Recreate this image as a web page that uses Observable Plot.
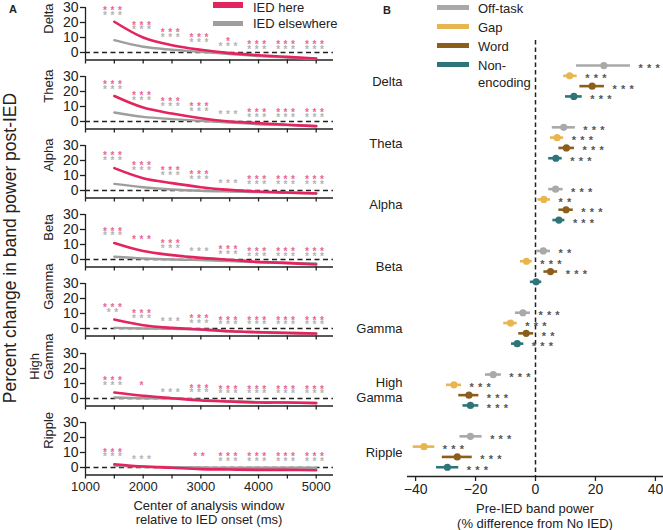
<!DOCTYPE html>
<html><head><meta charset="utf-8">
<script src="https://cdn.jsdelivr.net/npm/d3@7"></script>
<script src="https://cdn.jsdelivr.net/npm/@observablehq/plot@0.6"></script>
<style>
body{margin:0;background:#fff;font-family:"Liberation Sans",Arial,sans-serif;color:#222;}
#c{position:relative;width:663px;height:530px;overflow:hidden;background:#fff;}
.abs{position:absolute;white-space:nowrap;}
.lab{font-size:13px;line-height:15px;}
</style></head><body><div id="c"></div>
<script>
// ---------- Panel A data ----------
const windows = [1500, 2000, 2500, 3000, 3500, 4000, 4500, 5000];
const xTicksA = [1000, 1500, 2000, 2500, 3000, 3500, 4000, 4500, 5000];
const xTickLabelsA = [1000, 2000, 3000, 4000, 5000];
const yTicksA = [0, 10, 20, 30];
const bandNames = ["Delta", "Theta", "Alpha", "Beta", "Gamma", "High\nGamma", "Ripple"];
const seriesA = ["IED here", "IED elsewhere"];

const deltaHere = [20.5, 10, 4.9, 1.8, -0.4, -1.8, -2.9, -4];
const deltaElse = [8.2, 3.8, 1.8, 0.4, -1.1, -2.4, -3.3, -4.2];
const thetaHere = [17, 9.3, 5.3, 2.2, 0, -1.1, -2.2, -3.1];
const thetaElse = [6, 3.1, 1.6, 0.4, -0.7, -1.8, -2.4, -3.1];
const alphaHere = [14.9, 8.2, 4.9, 2.2, 0.4, -0.7, -1.3, -2];
const alphaElse = [4.4, 2.2, 0.7, -0.2, -0.7, -1.1, -1.6, -1.8];
const betaHere = [11, 5.6, 2.9, 1.1, -0.2, -1.6, -2.4, -3.3];
const betaElse = [1.8, 0.7, 0, -0.4, -1.1, -1.8, -2.2, -2.7];
const gammaHere = [6, 2.2, 0.4, -0.7, -1.8, -2.4, -2.9, -3.3];
const gammaElse = [0.4, 0, -0.2, -0.7, -1.8, -2.7, -3.1, -3.6];
const hgammaHere = [4, 1.8, 0.2, -1.3, -2, -2.7, -2.7, -3.1];
const hgammaElse = [0.7, 0.2, 0, -0.9, -1.8, -2.4, -2.7, -2.9];
const rippleHere = [2.2, 0.7, -0.2, -1.1, -1.3, -1.6, -1.6, -1.8];
const rippleElse = [1.1, 0.7, 0.2, 0, -0.2, -0.2, -0.2, -0.2];

// significance stars (count) and the level they are printed at
const deltaHereStars = [3, 3, 3, 3, 1, 3, 3, 3];
const deltaHereStarY = [29.6, 20, 14.9, 11.6, 8.9, 7.1, 7.1, 7.1];
const deltaElseStars = [3, 3, 3, 3, 3, 3, 3, 3];
const deltaElseStarY = [26.7, 17.1, 11.6, 8.4, 6, 3.8, 3.8, 3.8];
const thetaHereStars = [3, 3, 3, 3, 0, 3, 3, 3];
const thetaHereStarY = [26.4, 19.3, 14.9, 11.6, 0, 7.8, 7.8, 7.8];
const thetaElseStars = [3, 3, 3, 3, 3, 3, 3, 3];
const thetaElseStarY = [23.3, 16, 11.6, 8.7, 6.4, 4.4, 4.4, 4.4];
const alphaHereStars = [3, 3, 3, 3, 0, 3, 3, 3];
const alphaHereStarY = [24.9, 18.2, 14.9, 12.2, 0, 8.9, 8.9, 8.9];
const alphaElseStars = [3, 3, 3, 3, 3, 3, 3, 3];
const alphaElseStarY = [21.8, 15.1, 11.6, 8.9, 6.7, 5.6, 5.6, 5.6];
const betaHereStars = [3, 3, 3, 0, 3, 3, 3, 3];
const betaHereStarY = [20.7, 14.9, 12.7, 0, 8.2, 7.1, 7.1, 7.1];
const betaElseStars = [3, 0, 3, 3, 3, 3, 3, 3];
const betaElseStarY = [17.8, 0, 9.3, 7.1, 5.1, 4, 4, 4];
const gammaHereStars = [3, 3, 0, 3, 3, 3, 3, 3];
const gammaHereStarY = [16, 11.6, 0, 8.2, 7.1, 7.1, 7.1, 7.1];
const gammaElseStars = [2, 3, 3, 3, 3, 3, 3, 3];
const gammaElseStarY = [12.7, 8.7, 6.7, 4.9, 4.2, 4.2, 4.2, 4.2];
const hgammaHereStars = [3, 1, 0, 3, 3, 3, 3, 3];
const hgammaHereStarY = [13.6, 10.7, 0, 8.4, 8, 8, 8, 8];
const hgammaElseStars = [3, 0, 3, 3, 3, 3, 3, 3];
const hgammaElseStarY = [10.2, 0, 5.8, 5.8, 5.1, 5.1, 5.1, 5.1];
const rippleHereStars = [3, 0, 0, 2, 3, 3, 3, 3];
const rippleHereStarY = [11.8, 0, 0, 9.1, 8.9, 8.9, 8.9, 8.9];
const rippleElseStars = [3, 3, 0, 0, 3, 3, 3, 3];
const rippleElseStarY = [8.9, 7.3, 0, 0, 6, 6, 6, 6];

// ---------- Panel B data ----------
const groupsB = ["Delta", "Theta", "Alpha", "Beta", "Gamma", "High\nGamma", "Ripple"];
const conditionsB = ["Off-task", "Gap", "Word", "Non-\nencoding"];
const xTicksB = [-40, -20, 0, 20, 40];
const offMean = [22.8, 9.4, 6.7, 2.6, -4.2, -14.1, -21.7];
const offLo = [13.7, 5.6, 4.4, 0.3, -6.7, -16.7, -25.2];
const offHi = [31.7, 13.3, 9.2, 5, -1.7, -11.4, -17.8];
const offStars = [3, 3, 3, 2, 3, 3, 3];
const gapMean = [11.4, 7.2, 2.8, -3, -8.3, -27.2, -37.2];
const gapLo = [9.4, 5, 0.8, -5, -10.6, -29.7, -40.8];
const gapHi = [13.9, 9.4, 5, -1.1, -6.1, -24.7, -33.6];
const gapStars = [3, 3, 2, 3, 3, 3, 3];
const wordMean = [18.9, 10.3, 10.2, 5, -3.1, -22.2, -26.1];
const wordLo = [14.8, 7.8, 7.8, 2.8, -5.6, -25.6, -31.1];
const wordHi = [23, 13, 12.6, 7.4, -0.6, -18.9, -21.1];
const wordStars = [3, 3, 3, 3, 2, 3, 3];
const nonMean = [12.8, 6.8, 7.8, 0.2, -6.1, -21.7, -29.4];
const nonLo = [10, 4.4, 5.8, -1.7, -8, -24.2, -33];
const nonHi = [15.6, 8.9, 9.8, 2.1, -3.9, -18.9, -25.6];
const nonStars = [3, 3, 3, 0, 3, 3, 3];

// ---------- styling ----------
const FONT = '"Liberation Sans", Arial, sans-serif';
const RED = "#e3245e", GREY = "#9e9e9e";
const STAR_RED = "#e86994", STAR_GREY = "#b4b4b4";
const condColors = ["#a9a9a9", "#e8b650", "#8c5e1c", "#2e7479"];
const INK = "#222";

const container = document.getElementById("c");
function place(el, left, top) {
  el.style.position = "absolute"; el.style.left = left + "px"; el.style.top = top + "px";
  container.appendChild(el);
}
function spaceStars(svg, ls) {
  svg.querySelectorAll("text").forEach(t => {
    if (/^\*+$/.test(t.textContent)) t.style.letterSpacing = ls + "px";
  });
}

// ---------- Panel A ----------
const panelsA = [
  [deltaHere, deltaElse, deltaHereStars, deltaHereStarY, deltaElseStars, deltaElseStarY],
  [thetaHere, thetaElse, thetaHereStars, thetaHereStarY, thetaElseStars, thetaElseStarY],
  [alphaHere, alphaElse, alphaHereStars, alphaHereStarY, alphaElseStars, alphaElseStarY],
  [betaHere, betaElse, betaHereStars, betaHereStarY, betaElseStars, betaElseStarY],
  [gammaHere, gammaElse, gammaHereStars, gammaHereStarY, gammaElseStars, gammaElseStarY],
  [hgammaHere, hgammaElse, hgammaHereStars, hgammaHereStarY, hgammaElseStars, hgammaElseStarY],
  [rippleHere, rippleElse, rippleHereStars, rippleHereStarY, rippleElseStars, rippleElseStarY]
];
const PITCH = 69.1;
panelsA.forEach((p, i) => {
  const [here, els, hs, hy, es, ey] = p;
  const last = i === panelsA.length - 1;
  const lineData = windows.map((w, k) => ({w, v: here[k], s: seriesA[0]}))
    .concat(windows.map((w, k) => ({w, v: els[k], s: seriesA[1]})));
  const stars = [];
  windows.forEach((w, k) => {
    if (hs[k]) stars.push({w, y: hy[k], t: "*".repeat(hs[k]), c: STAR_RED});
    if (es[k]) stars.push({w, y: ey[k], t: "*".repeat(es[k]), c: STAR_GREY});
  });
  const name = bandNames[i];
  const svg = Plot.plot({
    width: 340, height: last ? 94 : 69,
    marginLeft: 85, marginRight: 7, marginTop: 7, marginBottom: last ? 34.5 : 9.5,
    x: {domain: [1000, 5300]},
    y: {domain: [-5, 30]},
    color: {type: "identity"},
    style: {fontFamily: FONT, fontSize: "13px", color: INK, background: "transparent", overflow: "visible"},
    marks: [
      Plot.ruleY([0], {stroke: INK, strokeWidth: 1.6, strokeDasharray: "5,3.5"}),
      Plot.ruleY([-5], {stroke: INK, strokeWidth: 1.3}),
      Plot.ruleX([1000], {stroke: INK, strokeWidth: 1.3}),
      Plot.axisY({ticks: yTicksA, tickSize: 5, tickPadding: 2, fontSize: 14, label: null, strokeWidth: 1.3}),
      Plot.axisX({ticks: xTicksA, tickSize: 4, tickPadding: 3, fontSize: 13, label: null, strokeWidth: 1.3,
        tickFormat: d => (last && xTickLabelsA.includes(d)) ? String(d) : ""}),
      Plot.line(lineData.filter(d => d.s === seriesA[1]), {x: "w", y: "v", stroke: GREY, strokeWidth: 2.4, curve: "catmull-rom"}),
      Plot.line(lineData.filter(d => d.s === seriesA[0]), {x: "w", y: "v", stroke: RED, strokeWidth: 2.6, curve: "catmull-rom"}),
      Plot.text(stars, {x: "w", y: "y", text: "t", fill: "c", fontSize: 10, fontWeight: "bold", dx: 0, dy: 3}),
      Plot.text([name], {frameAnchor: "left", text: d => d, rotate: -90, fontSize: 13, lineHeight: 1.05,
        dx: name.includes("\n") ? -44 : -37, fill: INK})
    ]
  });
  spaceStars(svg, 3.6);
  place(svg, 0, PITCH * i);
});

// ---------- Panel B ----------
const condArrays = [
  [offMean, offLo, offHi, offStars],
  [gapMean, gapLo, gapHi, gapStars],
  [wordMean, wordLo, wordHi, wordStars],
  [nonMean, nonLo, nonHi, nonStars]
];
const rowsB = [];
groupsB.forEach((g, gi) => condArrays.forEach((arr, k) => {
  rowsB.push({g, cond: conditionsB[k], r: gi * 6 + k, mean: arr[0][gi], lo: arr[1][gi], hi: arr[2][gi],
    stars: arr[3][gi], color: condColors[k]});
}));
const Y_TOP = -2.43, Y_BOT = 39.9;
const svgB = Plot.plot({
  width: 333, height: 530,
  marginLeft: 77, marginRight: 0, marginTop: 40, marginBottom: 54,
  x: {domain: [-42.7, 42.7]},
  y: {domain: [Y_TOP, Y_BOT], reverse: true, axis: null},
  color: {type: "identity"},
  style: {fontFamily: FONT, fontSize: "13px", color: INK, background: "transparent", overflow: "visible"},
  marks: [
    Plot.ruleX([0], {stroke: INK, strokeWidth: 1.5, strokeDasharray: "4.5,3"}),
    Plot.ruleY([Y_BOT], {stroke: INK, strokeWidth: 1.3}),
    Plot.axisX({ticks: xTicksB, tickSize: 5, tickPadding: 3, fontSize: 14, label: null, strokeWidth: 1.3}),
    Plot.ruleY(rowsB, {y: "r", x1: "lo", x2: "hi", stroke: "color", strokeWidth: 2.6}),
    Plot.dot(rowsB, {x: "mean", y: "r", fill: "color", r: 3.6}),
    Plot.text(rowsB.filter(d => d.stars > 0), {x: "hi", y: "r", text: d => "*".repeat(d.stars),
      textAnchor: "start", dx: 8, dy: 3, fill: "#555", fontSize: 11, fontWeight: "bold"}),
    Plot.text(groupsB, {frameAnchor: "left", y: (d, i) => i * 6 + 1.5, text: d => d, textAnchor: "end",
      dx: -5, fontSize: 13, lineHeight: 1.15, fill: INK})
  ]
});
spaceStars(svgB, 4.2);
place(svgB, 330, 0);

// ---------- HTML text: titles, legends ----------
function div(html, cls, left, top, extra) {
  const d = document.createElement("div");
  d.className = "abs " + (cls || ""); d.innerHTML = html;
  if (extra) Object.assign(d.style, extra);
  place(d, left, top); return d;
}
div("A", "", 9, 3, {fontWeight: "bold", fontSize: "11px"});
div("B", "", 383, 4, {fontWeight: "bold", fontSize: "11px"});
div("Percent change in band power post-IED", "", 10, 248,
  {fontSize: "17.5px", transform: "translate(-50%,-50%) rotate(-90deg)", left: "10px"});
div("Center of analysis window<br>relative to IED onset (ms)", "lab", 109, 499,
  {width: "200px", textAlign: "center", lineHeight: "14px"});
div("Pre-IED band power<br>(% difference from No IED)", "lab", 435, 500.5,
  {width: "200px", textAlign: "center"});

// legend A
[[RED, seriesA[0], 5, 6], [GREY, seriesA[1], 23.7, 5]].forEach(([col, lab, cy, h]) => {
  div("", "", 213, cy - h / 2, {width: "30px", height: h + "px", background: col});
  div(lab, "lab", 253, Math.max(cy - 7.5, -0.5));
});
// legend B
const legYB = [7, 26.7, 45, 64];
conditionsB.forEach((c, k) => {
  div("", "", 437, legYB[k] - 2.5, {width: "32px", height: "5px", background: condColors[k]});
  div(c.replace("\n", "<br>"), "lab", 478, legYB[k] - 7.5, {lineHeight: "17px"});
});
</script></body></html>
